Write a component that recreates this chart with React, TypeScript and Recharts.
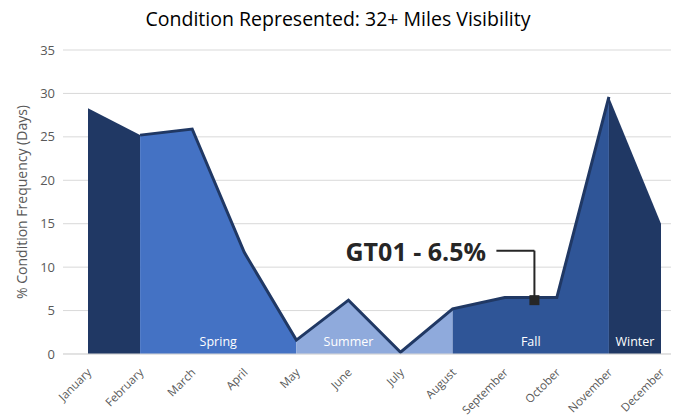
import {
  ComposedChart,
  Area,
  Line,
  XAxis,
  YAxis,
  CartesianGrid,
  ReferenceArea,
  ReferenceDot,
  ReferenceLine,
} from "recharts";

const months = [
  "January", "February", "March", "April", "May", "June",
  "July", "August", "September", "October", "November", "December",
];
const values = [28.3, 25.2, 25.9, 11.7, 1.6, 6.2, 0.2, 5.2, 6.5, 6.5, 29.6, 15.0];
const yTicks = [0, 5, 10, 15, 20, 25, 30, 35];

// season spans as month index ranges
const seasons = [
  { key: "winterA", from: 0, to: 1, color: "#203864", label: "" },
  { key: "spring", from: 1, to: 4, color: "#4472C4", label: "Spring" },
  { key: "summer", from: 4, to: 7, color: "#8FAADC", label: "Summer" },
  { key: "fall", from: 7, to: 10, color: "#2F5597", label: "Fall" },
  { key: "winterB", from: 10, to: 11, color: "#203864", label: "Winter" },
];
const outlineRange = [1, 10];

const marker = { x: 8.57, y: 6.2 };
const calloutY = 11.9;
const calloutText = "GT01 - 6.5%";

const data = values.map((v, i) => {
  const row: Record<string, number | null> = { x: i };
  seasons.forEach((s) => {
    row[s.key] = i >= s.from && i <= s.to ? v : null;
  });
  row.outline = i >= outlineRange[0] && i <= outlineRange[1] ? v : null;
  return row;
});

const MonthTick = (props: any) => {
  const { x, y, payload } = props;
  const tx = x + 1;
  const ty = y + 8;
  return (
    <text
      x={tx}
      y={ty}
      transform={`rotate(-45 ${tx} ${ty})`}
      textAnchor="end"
      dominantBaseline="central"
      fontSize={11.5}
      fill="#595959"
      fontFamily="Open Sans"
    >
      {months[payload.value]}
    </text>
  );
};

export default function App() {
  return (
    <div style={{ position: "absolute", left: 0, top: 0, width: 676, height: 417, fontFamily: "Open Sans", background: "#fff" }}>
      <div style={{ position: "absolute", top: 5, width: 676, textAlign: "center", fontSize: 19.5, color: "#000" }}>
        Condition Represented: 32+ Miles Visibility
      </div>
      <ComposedChart width={676} height={417} data={data} margin={{ top: 50, right: 5, left: 0, bottom: 0 }}>
        <CartesianGrid vertical={false} stroke="#d9d9d9" />
        <XAxis
          dataKey="x"
          type="number"
          domain={[0, 11]}
          ticks={months.map((_, i) => i)}
          interval={0}
          padding={{ left: 25, right: 10 }}
          tick={<MonthTick />}
          tickLine={false}
          axisLine={{ stroke: "#d9d9d9" }}
          height={63}
        />
        <YAxis
          width={63}
          domain={[0, 35]}
          ticks={yTicks}
          tickLine={false}
          axisLine={false}
          tick={{ fontSize: 13, fill: "#595959", fontFamily: "Open Sans" }}
          label={{
            value: "% Condition Frequency (Days)",
            angle: -90,
            position: "insideLeft",
            offset: 22,
            style: { textAnchor: "middle", fontSize: 14, fill: "#595959", fontFamily: "Open Sans" },
          }}
        />
        {seasons.map((s) => (
          <Area
            key={s.key}
            dataKey={s.key}
            type="linear"
            fill={s.color}
            fillOpacity={1}
            stroke="none"
            isAnimationActive={false}
            dot={false}
            activeDot={false}
          />
        ))}
        <Line
          dataKey="outline"
          type="linear"
          stroke="#203864"
          strokeWidth={3}
          strokeLinejoin="miter"
          dot={false}
          activeDot={false}
          isAnimationActive={false}
        />
        {seasons
          .filter((s) => s.label)
          .map((s) => (
            <ReferenceArea
              key={s.key + "-label"}
              x1={s.from}
              x2={s.key === "summer" ? s.from + 2 : s.to}
              y1={0}
              y2={3}
              fill="none"
              stroke="none"
              label={{
                value: s.label,
                position: "center",
                dy: 1,
                fill: "#ffffff",
                fontSize: 12.5,
                fontFamily: "Open Sans",
              }}
            />
          ))}
        <ReferenceLine
          segment={[
            { x: 7.84, y: calloutY },
            { x: marker.x, y: calloutY },
          ]}
          stroke="#262626"
          strokeWidth={2}
        />
        <ReferenceLine
          segment={[
            { x: marker.x, y: calloutY },
            { x: marker.x, y: marker.y },
          ]}
          stroke="#262626"
          strokeWidth={2}
        />
        <ReferenceDot
          x={marker.x}
          y={marker.y}
          r={5}
          shape={(p: any) => <rect x={p.cx - 5} y={p.cy - 5} width={10} height={10} fill="#262626" />}
        />
        <ReferenceDot
          x={7.64}
          y={calloutY}
          r={1}
          shape={(p: any) => (
            <text
              x={p.cx}
              y={p.cy}
              textAnchor="end"
              dominantBaseline="central"
              fontSize={25}
              fontWeight="bold"
              fill="#262626"
              fontFamily="Open Sans"
            >
              {calloutText}
            </text>
          )}
        />
      </ComposedChart>
    </div>
  );
}
